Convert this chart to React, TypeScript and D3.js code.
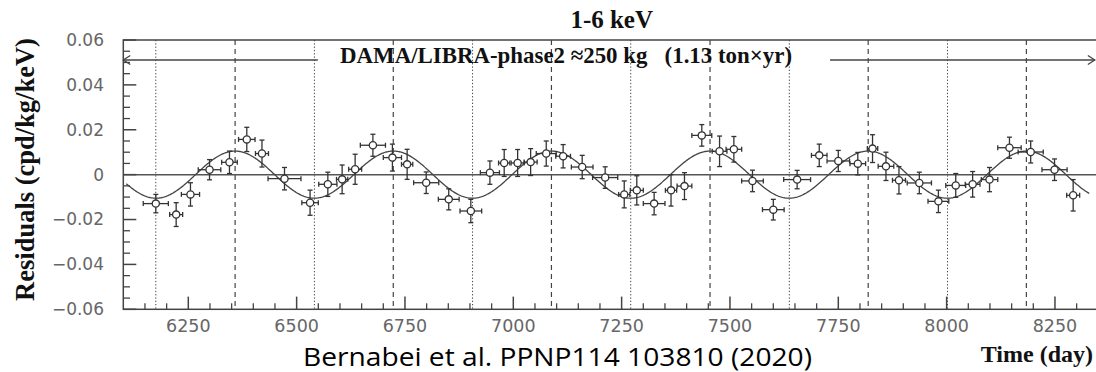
import * as d3 from "d3"

// residual rate points (day, cpd/kg/keV)
const days = [
  6175, 6222, 6255, 6299, 6345, 6385, 6420, 6472, 6531, 6572, 6605, 6635, 6676, 6721, 6755, 6799,
  6851, 6902, 6946, 6979, 7010, 7040, 7076, 7115, 7159, 7212, 7256, 7285, 7325, 7364, 7395, 7435,
  7476, 7509, 7552, 7600, 7655, 7706, 7750, 7795, 7829, 7860, 7890, 7937, 7981, 8021, 8060, 8099,
  8145, 8194, 8249, 8292,
]
const residuals = [
  -0.0129, -0.0178, -0.0088, 0.0022, 0.0055, 0.0157, 0.0094, -0.0018, -0.0125, -0.0043, -0.0021,
  0.0024, 0.0131, 0.0076, 0.0046, -0.0036, -0.011, -0.0162, 0.0009, 0.0052, 0.0052, 0.0056, 0.0094,
  0.0082, 0.0034, -0.0013, -0.0088, -0.007, -0.0129, -0.007, -0.0051, 0.0175, 0.0104, 0.0113,
  -0.0028, -0.0156, -0.0022, 0.0086, 0.0061, 0.0049, 0.0116, 0.0037, -0.0025, -0.0037, -0.0119,
  -0.0048, -0.0043, -0.0022, 0.012, 0.0101, 0.0022, -0.0092,
]
const residualErr = [
  0.0041, 0.0053, 0.0052, 0.0045, 0.005, 0.0054, 0.006, 0.005, 0.0056, 0.0054, 0.0064, 0.0067,
  0.0049, 0.006, 0.0067, 0.0048, 0.0047, 0.0052, 0.0052, 0.006, 0.006, 0.006, 0.0056, 0.0052,
  0.0052, 0.0048, 0.006, 0.0065, 0.005, 0.007, 0.006, 0.0048, 0.0068, 0.0057, 0.0048, 0.0046,
  0.0041, 0.005, 0.0047, 0.005, 0.0062, 0.0063, 0.0061, 0.0048, 0.005, 0.0053, 0.0057, 0.0054,
  0.0047, 0.0049, 0.0048, 0.007,
]
const dayErr = [
  29, 15, 21, 26, 18, 19, 15, 38, 19, 21, 13, 15, 29, 21, 13, 29, 24, 25, 22, 13, 15, 15, 23, 17,
  25, 29, 13, 15, 25, 13, 17, 23, 17, 18, 25, 25, 31, 18, 26, 18, 12, 18, 15, 28, 24, 23, 17, 19,
  27, 29, 29, 15,
]

// June 2 (dashed) and December (dotted) markers
const peakDays = [6358, 6723, 7088, 7454, 7819, 8184]
const troughDays = [6175, 6541, 6906, 7271, 7637, 8002]

// cosine fit A cos(2pi/T (t - t0))
const FIT_A = 0.0105
const FIT_T = 365.25
const FIT_T0 = 6358
const FIT_RANGE = [6107, 8330]

const xTicks = [6250, 6500, 6750, 7000, 7250, 7500, 7750, 8000, 8250]
const yTicks = [-0.06, -0.04, -0.02, 0, 0.02, 0.04, 0.06]

const W = 1096
const H = 372
const left = 123.3
const top = 40
const bottom = 309.3
const right = 1098.3
const ink = "#444"

export default function App() {
  const x = d3.scaleLinear().domain([6100, 8350]).range([left, right])
  const y = d3.scaleLinear().domain([-0.06, 0.06]).range([bottom, top])

  const fitPts = d3.range(FIT_RANGE[0], FIT_RANGE[1] + 1, 2)
  const fitLine = d3
    .line<number>()
    .x((t) => x(t))
    .y((t) => y(FIT_A * Math.cos(((2 * Math.PI) / FIT_T) * (t - FIT_T0))))

  const xMinor = d3.range(6150, 8350, 50).filter((t) => t % 250 !== 0)
  const yMinor = d3.range(-0.06, 0.0601, 0.005).filter((v) => Math.abs(Math.round(v * 1000) % 20) !== 0)

  const serif = "'Liberation Serif', 'Times New Roman', serif"
  const sans = "'DejaVu Sans', sans-serif"
  const cap = 2.5

  return (
    <svg width={W} height={H} style={{ position: "absolute", left: 0, top: 0 }}>
      <rect width={W} height={H} fill="#fff" />

      {/* seasonal marker lines */}
      {peakDays.map((d) => (
        <line key={"p" + d} x1={x(d)} x2={x(d)} y1={top} y2={bottom} stroke={ink} strokeWidth={1.2} strokeDasharray="5 4" />
      ))}
      {troughDays.map((d) => (
        <line key={"t" + d} x1={x(d)} x2={x(d)} y1={top} y2={bottom} stroke={ink} strokeWidth={1} strokeDasharray="1.3 2" />
      ))}

      {/* zero line */}
      <line x1={left} x2={right} y1={y(0)} y2={y(0)} stroke="#555" strokeWidth={1.5} />

      {/* frame */}
      <rect x={left} y={top} width={right - left} height={bottom - top} fill="none" stroke={ink} strokeWidth={1.5} />

      {/* y ticks */}
      {yTicks.map((v) => (
        <g key={"y" + v}>
          <line x1={left} x2={left + 13} y1={y(v)} y2={y(v)} stroke={ink} strokeWidth={1.5} />
          <text x={104} y={y(v)} dy="0.35em" textAnchor="end" fontFamily={sans} fontSize={17} fill="#666">
            {v === 0 ? "0" : d3.format(".2f")(v).replace("-", "\u2212")}
          </text>
        </g>
      ))}
      {yMinor.map((v) => (
        <line key={"ym" + v} x1={left} x2={left + 6.7} y1={y(v)} y2={y(v)} stroke={ink} strokeWidth={1.3} />
      ))}

      {/* x ticks */}
      {xTicks.map((t) => (
        <g key={"x" + t}>
          <line x1={x(t)} x2={x(t)} y1={bottom} y2={bottom - 12.7} stroke={ink} strokeWidth={1.5} />
          <text x={x(t)} y={331.5} textAnchor="middle" fontFamily={sans} fontSize={17.5} fill="#666">
            {t}
          </text>
        </g>
      ))}
      {xMinor.map((t) => (
        <line key={"xm" + t} x1={x(t)} x2={x(t)} y1={bottom} y2={bottom - 6} stroke={ink} strokeWidth={1.3} />
      ))}

      {/* fit curve */}
      <path d={fitLine(fitPts) ?? ""} fill="none" stroke={ink} strokeWidth={1.3} />

      {/* data with error bars */}
      {days.map((d, i) => {
        const cx = x(d)
        const cy = y(residuals[i])
        const x0 = x(d - dayErr[i])
        const x1 = x(d + dayErr[i])
        const y0 = y(residuals[i] - residualErr[i])
        const y1 = y(residuals[i] + residualErr[i])
        return (
          <g key={"pt" + i} stroke="#333" strokeWidth={1.3} fill="none">
            <line x1={x0} x2={x1} y1={cy} y2={cy} />
            <line x1={cx} x2={cx} y1={y0} y2={y1} />
            <line x1={x0} x2={x0} y1={cy - cap} y2={cy + cap} />
            <line x1={x1} x2={x1} y1={cy - cap} y2={cy + cap} />
            <line x1={cx - cap} x2={cx + cap} y1={y0} y2={y0} />
            <line x1={cx - cap} x2={cx + cap} y1={y1} y2={y1} />
            <circle cx={cx} cy={cy} r={3.6} fill="#fff" />
          </g>
        )
      })}

      {/* exposure arrows */}
      <g stroke={ink} strokeWidth={1.3} fill="none">
        <line x1={x(6100)} x2={x(6549)} y1={60} y2={60} />
        <polyline points={`${x(6100) + 7},55.5 ${x(6100)},60 ${x(6100) + 7},64.5`} />
        <line x1={x(7731)} x2={x(8342)} y1={60} y2={60} />
        <polyline points={`${x(8342) - 7},55.5 ${x(8342)},60 ${x(8342) - 7},64.5`} />
      </g>
      <text x={340} y={62.5} fontFamily={serif} fontWeight="bold" fontSize={23.5} fill="#111" textLength={452} lengthAdjust="spacingAndGlyphs">
        {"DAMA/LIBRA-phase2 \u2248250 kg \u00a0\u00a0(1.13 ton\u00d7yr)"}
      </text>

      {/* titles */}
      <text x={611.7} y={28} textAnchor="middle" fontFamily={serif} fontWeight="bold" fontSize={25} fill="#111">
        1-6 keV
      </text>
      <text
        transform={`translate(34,169.5) rotate(-90)`}
        textAnchor="middle"
        fontFamily={serif}
        fontWeight="bold"
        fontSize={26.5}
        fill="#111"
      >
        Residuals (cpd/kg/keV)
      </text>
      <text x={1093} y={362} textAnchor="end" fontFamily={serif} fontWeight="bold" fontSize={24} fill="#111">
        Time (day)
      </text>
      <text x={303} y={366} fontFamily="'Open Sans', sans-serif" fontSize={25} fill="#000" textLength={509} lengthAdjust="spacingAndGlyphs">
        Bernabei et al. PPNP114 103810 (2020)
      </text>
    </svg>
  )
}
